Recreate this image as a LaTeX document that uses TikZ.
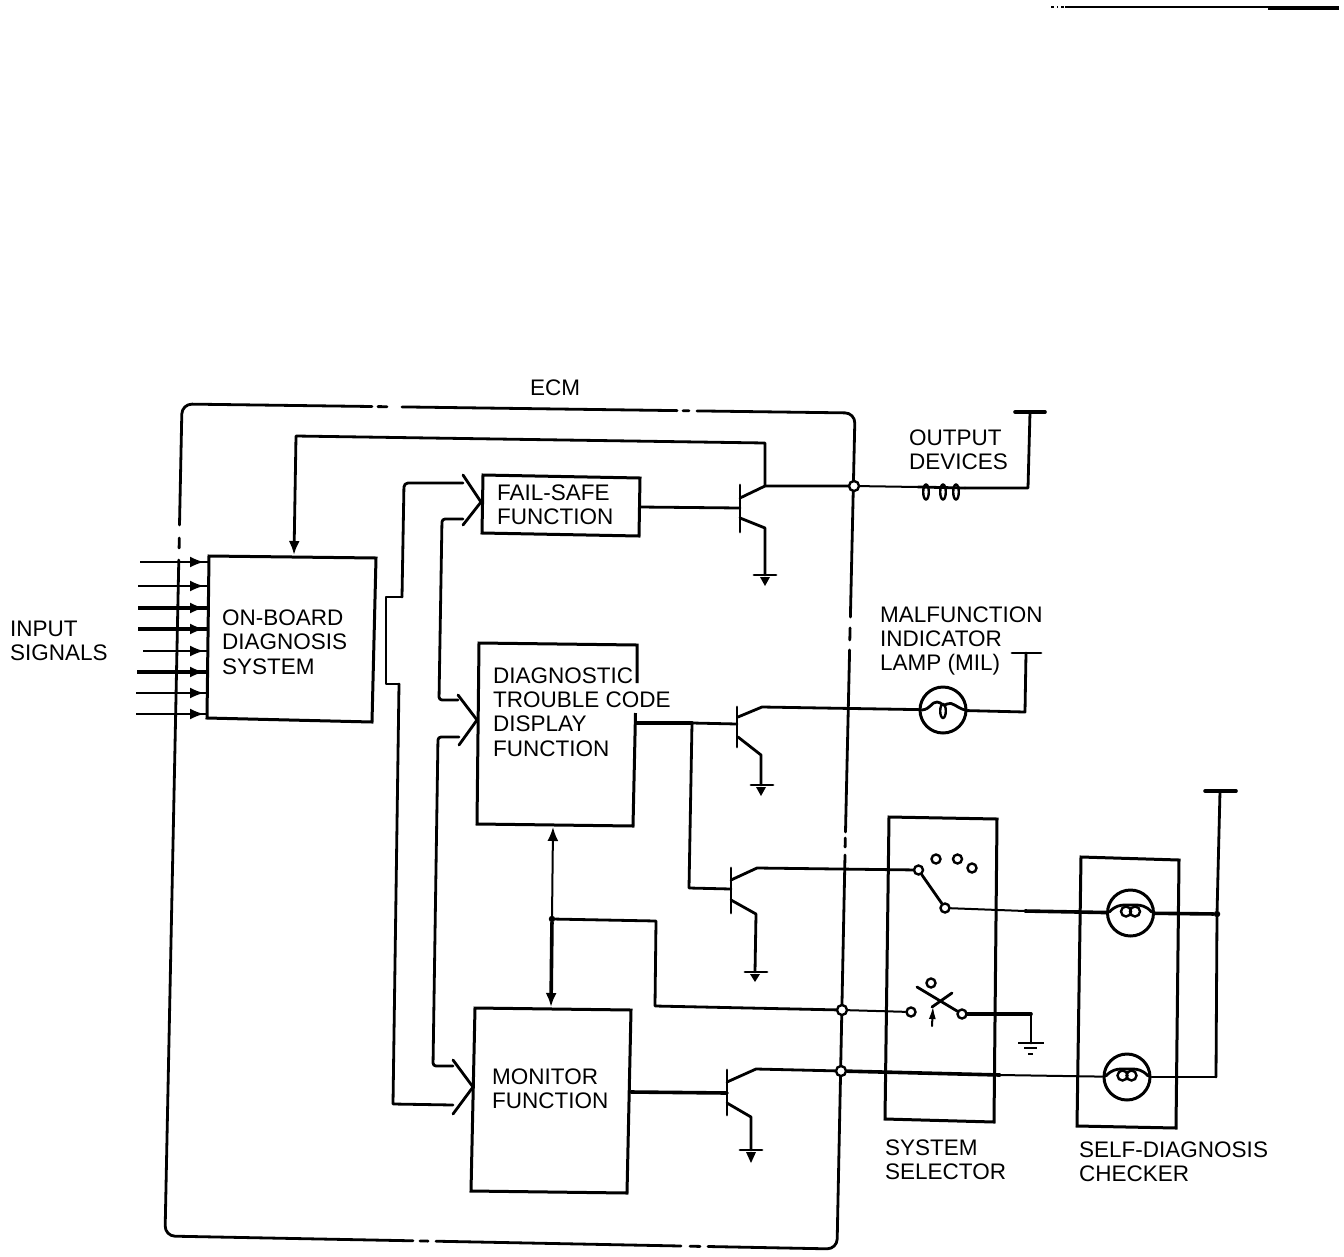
\documentclass[tikz,border=0pt]{standalone}
\usepackage{fontspec}
\setmainfont{Liberation Sans}
\usetikzlibrary{arrows.meta,calc}
\tikzset{
  wire/.style={line width=2.8pt,line join=round,line cap=round},
  thinwire/.style={line width=2pt,line join=round,line cap=round},
  heavy/.style={line width=3.6pt,line join=round,line cap=round},
  boxline/.style={line width=3pt,line join=miter},
  lbl/.style={inner sep=0pt,anchor=west,align=left,font=\fontsize{22.5}{24.3}\selectfont},
  jn/.style={circle,draw,fill=white,line width=2.4pt,minimum size=10pt,inner sep=0pt},
  dotj/.style={circle,fill=black,minimum size=6.5pt,inner sep=0pt},
  lamp/.style={circle,draw,fill=white,line width=3pt,minimum size=46pt,inner sep=0pt},
  tip/.style={-{Latex[length=14pt 0,width=11pt 0]}},
}
\begin{document}
\begin{tikzpicture}[x=1pt,y=-1pt]
\useasboundingbox (0,0) rectangle (1344,1256);
% scan remnant at page top
\draw[line width=2.4pt] (1065,7)--(1268,7);
\draw[line width=4.4pt] (1268,8)--(1339,8);
\draw[line width=2.2pt] (1051,7)--(1054,7) (1057,7)--(1058,7) (1061,7)--(1064,7);
% ECM outline with its breaks
\draw[wire,rounded corners=10pt] (372,406.5)--(182,404)--(179.5,525);
\draw[wire,rounded corners=10pt] (697,410.9)--(855,413)--(850.4,617);
\draw[wire,rounded corners=10pt] (178.8,560)--(165,1236)--(413,1240.8);
\draw[wire,rounded corners=10pt] (708,1246.5)--(837,1249)--(845,855);
\draw[wire] (378,406.6)--(387,406.7) (402,406.9)--(677,410.6) (683,410.7)--(689,410.8);
\draw[wire] (179.3,538)--(179.1,548);
\draw[wire] (850.1,628)--(849.8,640) (849.6,650)--(845.5,832) (845.3,838)--(845.1,847);
\draw[wire] (420,1240.9)--(428,1241.1) (436,1241.2)--(681,1246) (690,1246.2)--(700,1246.4);
% function boxes
\coordinate (obdA) at (209,556); \coordinate (obdB) at (376,558);
\coordinate (obdC) at (372,722); \coordinate (obdD) at (207,718);
\draw[boxline] (obdA)--(obdB)--(obdC)--(obdD)--cycle;
\coordinate (fsA) at (483,475); \coordinate (fsB) at (640,478);
\coordinate (fsC) at (639,536); \coordinate (fsD) at (482,533);
\draw[boxline] (fsA)--(fsB)--(fsC)--(fsD)--cycle;
\coordinate (dtA) at (479,643); \coordinate (dtB) at (637,645);
\coordinate (dtC) at (633,826); \coordinate (dtD) at (477,824);
\draw[boxline] (637,683)--(dtB)--(dtA)--(dtD)--(dtC)--(635.5,713);
\coordinate (moA) at (475,1008); \coordinate (moB) at (631,1010);
\coordinate (moC) at (627,1193); \coordinate (moD) at (471,1191);
\draw[boxline] (moA)--(moB)--(moC)--(moD)--cycle;
\coordinate (ssA) at (889,817); \coordinate (ssB) at (997,819);
\coordinate (ssC) at (994,1122); \coordinate (ssD) at (885,1119);
\draw[boxline] (ssA)--(ssB)--(ssC)--(ssD)--cycle;
\coordinate (ckA) at (1081,857); \coordinate (ckB) at (1179,860);
\coordinate (ckC) at (1176,1128); \coordinate (ckD) at (1077,1126);
\draw[boxline] (ckA)--(ckB)--(ckC)--(ckD)--cycle;
% labels
\node[lbl,anchor=center] (ecmL) at (555,388) {ECM};
\node[lbl] (inL) at (10,641) {INPUT\\SIGNALS};
\node[lbl] (obdL) at (222,642) {ON-BOARD\\DIAGNOSIS\\SYSTEM};
\node[lbl] (fsL) at (497,504.5) {FAIL-SAFE\\FUNCTION};
\node[lbl] (dtL) at (493,712) {DIAGNOSTIC\\TROUBLE CODE\\DISPLAY\\FUNCTION};
\node[lbl] (moL) at (492,1089) {MONITOR\\FUNCTION};
\node[lbl] (outL) at (909,449.5) {OUTPUT\\DEVICES};
\node[lbl] (milL) at (880,641) {MALFUNCTION\\INDICATOR\\LAMP (MIL)};
\node[lbl] (ssL) at (885,1159.5) {SYSTEM\\SELECTOR};
\node[lbl] (ckL) at (1079,1161.5) {SELF-DIAGNOSIS\\CHECKER};
% input signals
\foreach \xs/\yy/\xe/\lw in {140/562/208.9/2,138/586/208.6/2.8,138/608/208.4/3.8,138/629/208.1/3.8,143/651/207.9/2,137/672/207.6/3.8,136/693/207.3/2.2,136/714/207/2.2}{
  \coordinate (ia) at (\xs,\yy); \coordinate (ib) at (\xe,\yy); \coordinate (ic) at (204,\yy);
  \draw[line width=\lw pt] (ia)--(ib);
  \draw[line width=2pt,tip] (190,\yy)--(ic);
}
% feedback to on-board diagnosis
\coordinate (t1c) at (765,486);
\coordinate (fbA) at (765,443); \coordinate (fbB) at (296,436); \coordinate (obdIn) at (294,555);
\draw[wire,tip] (t1c)--(fbA)--(fbB)--(obdIn);
% bus from on-board diagnosis
\coordinate (busT) at (386,597); \coordinate (busB) at (386,684);
\draw[wire] (402,597)--(busT)--(busB)--(399,684);
\draw[wire,rounded corners=4pt] (402,597)--(404,483)--(463,483);
\draw[wire] (399,684)--(393,1104)--(453,1105);
\draw[wire,rounded corners=3pt] (463,519)--(442,519)--(439,700)--(458,700);
\draw[wire,rounded corners=3pt] (459,737)--(438,737)--(433,1066)--(453,1066);
% chevrons
\draw[wire,line join=miter] (463,475)--(481,502)--(463,525);
\draw[wire,line join=miter] (458,695)--(477,720)--(459,745);
\draw[wire,line join=miter] (453,1060)--(473,1087)--(453,1114);
% link DTC - monitor
\node[dotj] (jm) at (552,919) {};
\coordinate (dtOut) at (553,827); \coordinate (moIn) at (551,1007);
\draw[thinwire,tip] (jm)--(dtOut);
\draw[heavy,tip] (jm)--(moIn);
\node[jn] (j2) at (842,1010) {};
\node[jn] (j3) at (841,1071) {};
\node[jn] (j1) at (854,486) {};
\coordinate (mA) at (656,921); \coordinate (mB) at (655,1006);
\draw[wire] (jm)--(mA)--(mB)--(j2);
% transistor 1
\coordinate (b1) at (740,508);
\draw[wire] (640,507)--(b1);
\draw[wire] (740,485)--(740,532);
\draw[wire] (740,498)--(t1c)--(j1);
\draw[wire] (740,518)--(765,528)--(765,575);
\draw[wire] (754,575)--(776,575);
\fill (760,577)--(770,577)--(765,586)--cycle;
% output devices
\coordinate (coilA) at (918,487); \coordinate (coilB) at (965,488);
\draw[thinwire] (j1)--(coilA);
\draw[wire] (coilA)--(coilB);
\foreach \cx in {926,943,956}{\draw[line width=2.4pt] (\cx,492) ellipse (2.8pt and 7.5pt);}
\coordinate (oR) at (1028,488); \coordinate (oT) at (1030,412);
\draw[wire] (coilB)--(oR)--(oT);
\draw[heavy] (1015,412)--(1045,412);
% transistor 2 and MIL
\coordinate (jb) at (692,723);
\draw[heavy] (636,723)--(jb);
\draw[wire] (jb)--(737,724);
\draw[wire] (737,707)--(737,747);
\node[lamp] (lamp1) at (943,710) {};
\draw[wire] (738,717)--(762,707)--(lamp1);
\draw[wire] (738,737)--(761,755)--(761,785);
\draw[wire] (751,785)--(773,785);
\fill (756,787)--(766,787)--(761,796)--cycle;
\draw[wire] (lamp1)--(1025,712)--(1026,653);
\draw[wire] (1012,653)--(1041,653);
\draw[wire] (922,710) .. controls (931,709) and (931,702) .. (937,702) .. controls (942,702) and (943,708) .. (947,704) .. controls (952,701) and (957,708) .. (965,710);
\draw[line width=2.4pt] (943,711) ellipse (2.8pt and 7pt);
% transistor 3
\draw[wire] (jb)--(689,888)--(731,889);
\draw[wire] (731,868)--(731,913);
\node[jn,minimum size=9pt] (c1) at (918.5,870) {};
\draw[wire] (731,880)--(757,868)--(c1);
\draw[wire] (731,900)--(756,914)--(755,972);
\draw[wire] (745,972)--(767,972);
\fill (750,974)--(760,974)--(755,982)--cycle;
% system selector: rotary switch
\node[jn,minimum size=9pt] (c2) at (945,908) {};
\node[jn,minimum size=9pt] (c3) at (936,859) {};
\node[jn,minimum size=9pt] (c4) at (957.5,859) {};
\node[jn,minimum size=9pt] (c5) at (972,868) {};
\draw[wire] (c1)--(c2);
% checker lamps
\node[lamp] (lamp2) at (1130.5,913) {};
\node[lamp] (lamp3) at (1127,1077) {};
\coordinate (w2) at (1025,911);
\draw[thinwire] (c2)--(w2);
\draw[heavy] (w2)--(lamp2);
\node[dotj] (jc) at (1217,914) {};
\draw[heavy] (lamp2)--(jc);
\coordinate (cT) at (1220,791); \coordinate (cB) at (1216,1077);
\draw[wire] (cT)--(jc)--(cB);
\draw[heavy] (1205,791)--(1236,791);
\foreach \cx/\cy in {1130.5/913,1127/1077}{
  \begin{scope}[shift={(\cx,\cy)}]
    \draw[wire] (-21,-1) .. controls (-16,-7) and (-10,-8) .. (-6,-8)--(6,-8) .. controls (10,-8) and (16,-7) .. (21,-1);
    \draw[line width=2.4pt] (-4.5,-1.5) circle (5pt) (4.5,-1.5) circle (5pt);
  \end{scope}
}
% system selector: key switch
\node[jn,minimum size=9pt] (c6) at (911,1012) {};
\node[jn,minimum size=9pt] (c7) at (962,1014) {};
\node[jn,minimum size=9pt] (c8) at (931,983) {};
\draw[thinwire] (j2)--(c6);
\draw[wire] (917,987)--(c7);
\draw[wire] (952,993)--(932,1007);
\coordinate (kA) at (932,1026); \coordinate (kB) at (933,1006);
\draw[thinwire,-{Latex[length=13pt 0,width=7pt 0]}] (kA)--(kB);
\coordinate (gK) at (1031,1014);
\draw[heavy] (c7)--(gK);
\draw[wire] (gK)--(1031,1043);
\draw[line width=2pt] (1018,1043)--(1044,1043);
\draw[line width=2.4pt] (1024,1048)--(1037,1048) (1028,1054)--(1033,1054);
% transistor 4
\draw[heavy] (631,1092)--(727,1093);
\draw[wire] (727,1070)--(727,1115);
\draw[wire] (727,1082)--(756,1069)--(j3);
\draw[wire] (727,1103)--(751,1117)--(751,1150);
\draw[wire] (740,1150)--(762,1150);
\fill (746,1152)--(756,1152)--(751,1163)--cycle;
\coordinate (w3) at (1000,1075);
\draw[heavy] (j3)--(w3);
\draw[thinwire] (w3)--(lamp3);
\draw[thinwire] (lamp3)--(cB);
\end{tikzpicture}
\end{document}
